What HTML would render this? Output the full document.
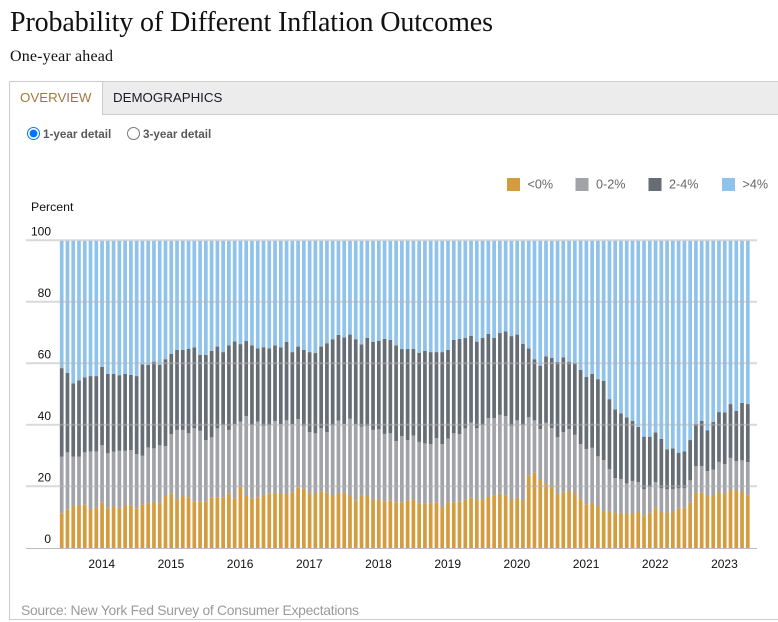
<!DOCTYPE html>
<html lang="en">
<head>
<meta charset="utf-8">
<title>Probability of Different Inflation Outcomes</title>
<style>
html,body{margin:0;padding:0;background:#fff;}
body{position:relative;width:778px;height:622px;overflow:hidden;font-family:"Liberation Sans",Arial,sans-serif;}
.abs{position:absolute;}
#panel{left:9px;top:81px;width:780px;height:537px;border:1px solid #ccc;box-sizing:content-box;}
#tabbar{left:102px;top:82px;width:680px;height:32px;background:#ececec;border-left:1px solid #ccc;border-bottom:1px solid #ccc;}
.tab{font-size:13.3px;line-height:16px;white-space:nowrap;cursor:pointer;}
.radio-label{font-size:11.7px;font-weight:bold;color:#595959;line-height:14px;white-space:nowrap;}
input[type=radio]{position:absolute;margin:0;width:13px;height:13px;accent-color:#0075ff;}
#chart{left:0;top:0;}
</style>
</head>
<body>
<svg class="abs" style="left:0;top:0" width="778" height="75">
  <text x="10" y="31" font-family="'Liberation Serif',serif" font-size="28" fill="#111" textLength="483" lengthAdjust="spacing">Probability of Different Inflation Outcomes</text>
  <text x="10" y="61" font-family="'Liberation Serif',serif" font-size="16" fill="#111" textLength="103" lengthAdjust="spacing">One-year ahead</text>
</svg>
<div class="abs" id="panel"></div>
<div class="abs" id="tabbar"></div>
<div class="abs tab" style="left:20px;top:90px;color:#a07a3c">OVERVIEW</div>
<div class="abs tab" style="left:113px;top:90px;color:#1a1a2a">DEMOGRAPHICS</div>
<input class="abs" type="radio" name="detail" checked style="left:27px;top:127px">
<div class="abs radio-label" style="left:43px;top:128px">1-year detail</div>
<input class="abs" type="radio" name="detail" style="left:127px;top:127px">
<div class="abs radio-label" style="left:143px;top:128px">3-year detail</div>

<svg class="abs" id="chart" width="778" height="622" font-family="'Liberation Sans',Arial,sans-serif">
  <g id="bars"></g>
  <g id="grid"></g>
  <g id="yticks"></g>
  <g id="xticks"></g>
  <text x="31" y="211" font-size="12.3" fill="#111">Percent</text>
  <g id="legend"></g>
  <text x="21" y="615" font-size="13.9" fill="#9a9a9a" textLength="338" lengthAdjust="spacing">Source: New York Fed Survey of Consumer Expectations</text>
</svg>

<script>
const categories = [
"Jun 13","Jul 13","Aug 13","Sep 13","Oct 13","Nov 13","Dec 13",
"Jan 14","Feb 14","Mar 14","Apr 14","May 14","Jun 14","Jul 14","Aug 14","Sep 14","Oct 14","Nov 14","Dec 14",
"Jan 15","Feb 15","Mar 15","Apr 15","May 15","Jun 15","Jul 15","Aug 15","Sep 15","Oct 15","Nov 15","Dec 15",
"Jan 16","Feb 16","Mar 16","Apr 16","May 16","Jun 16","Jul 16","Aug 16","Sep 16","Oct 16","Nov 16","Dec 16",
"Jan 17","Feb 17","Mar 17","Apr 17","May 17","Jun 17","Jul 17","Aug 17","Sep 17","Oct 17","Nov 17","Dec 17",
"Jan 18","Feb 18","Mar 18","Apr 18","May 18","Jun 18","Jul 18","Aug 18","Sep 18","Oct 18","Nov 18","Dec 18",
"Jan 19","Feb 19","Mar 19","Apr 19","May 19","Jun 19","Jul 19","Aug 19","Sep 19","Oct 19","Nov 19","Dec 19",
"Jan 20","Feb 20","Mar 20","Apr 20","May 20","Jun 20","Jul 20","Aug 20","Sep 20","Oct 20","Nov 20","Dec 20",
"Jan 21","Feb 21","Mar 21","Apr 21","May 21","Jun 21","Jul 21","Aug 21","Sep 21","Oct 21","Nov 21","Dec 21",
"Jan 22","Feb 22","Mar 22","Apr 22","May 22","Jun 22","Jul 22","Aug 22","Sep 22","Oct 22","Nov 22","Dec 22",
"Jan 23","Feb 23","Mar 23","Apr 23","May 23"];
const below0 = [11.4,12.5,13.9,13.9,14.3,12.6,13.2,15.0,12.9,13.6,13.2,13.9,14.0,12.9,14.3,14.6,15.2,14.6,17.0,17.9,15.9,17.0,16.6,15.3,15.3,15.3,16.6,16.6,16.6,17.9,16.3,20.1,17.0,16.3,16.6,17.2,17.9,18.0,17.8,17.8,18.1,19.7,19.4,17.8,17.8,18.6,18.1,17.0,17.8,18.1,17.0,15.6,17.2,17.0,15.9,15.9,15.3,15.6,15.0,15.0,15.6,15.9,14.5,14.6,14.6,15.0,13.6,15.0,15.0,15.3,15.9,16.4,15.9,15.9,16.7,17.2,17.7,17.2,15.7,16.4,15.7,23.6,24.6,22.2,20.9,20.1,17.8,18.1,18.8,17.8,15.9,14.3,14.6,13.6,12.1,12.1,11.5,11.3,11.3,11.3,11.8,10.7,11.5,13.2,11.8,11.5,11.8,12.9,13.2,15.0,18.0,18.1,17.0,17.0,18.3,17.8,19.1,18.8,18.3,17.3];
const from0to2 = [18.4,18.7,15.9,15.9,16.9,18.9,18.3,18.5,18.0,17.8,18.5,17.8,17.9,17.7,15.8,18.2,17.3,18.9,16.2,19.2,22.6,21.5,20.8,23.7,22.9,19.9,19.5,22.4,23.5,20.6,24.0,21.1,26.0,23.8,24.6,22.6,22.1,23.4,22.5,23.8,22.2,22.3,20.4,20.0,19.6,20.5,19.7,23.0,23.7,22.3,25.1,24.7,22.4,22.8,22.6,22.8,21.9,21.8,19.9,21.5,19.6,20.8,20.1,19.5,19.3,20.8,20.3,20.7,22.4,21.8,23.1,24.5,23.2,24.1,25.6,25.1,25.7,25.8,24.1,25.2,24.4,19.0,17.0,16.6,19.9,19.0,18.3,19.7,20.0,19.1,18.0,18.0,18.1,16.3,16.6,13.6,11.3,11.2,9.8,10.6,9.7,8.5,8.4,8.3,7.7,7.7,7.5,6.6,6.3,7.1,8.7,8.6,8.1,8.6,9.8,9.6,10.3,9.6,10.3,10.7];
const from2to4 = [28.8,25.8,23.8,24.8,24.4,24.5,24.5,25.5,25.8,25.3,24.6,25.0,24.5,25.4,29.7,26.9,28.2,26.2,28.3,26.1,26.0,26.0,27.5,26.3,24.7,27.7,28.1,26.6,23.7,27.5,27.0,25.2,24.4,25.9,23.8,25.6,25.0,24.6,25.0,25.5,23.5,23.6,24.7,26.0,26.1,26.5,28.9,28.0,27.9,28.2,27.4,27.7,26.7,28.6,28.6,28.8,30.9,30.4,31.1,28.3,29.6,28.1,29.0,30.1,29.9,28.0,29.9,28.8,30.4,31.0,29.4,28.2,28.1,28.4,27.4,26.1,26.6,27.5,29.2,27.9,26.4,22.4,19.9,20.6,21.6,22.8,24.5,24.3,21.9,23.3,24.1,23.4,24.0,25.1,25.8,22.8,22.4,21.4,21.5,19.5,18.0,17.1,16.4,16.2,16.1,13.0,13.2,11.6,12.0,13.1,13.7,14.7,13.3,15.5,16.2,16.8,17.5,16.3,18.7,18.9];
const above4 = [41.4,43.0,46.4,45.4,44.4,44.0,44.0,41.0,43.3,43.3,43.7,43.3,43.6,44.0,40.2,40.3,39.3,40.3,38.5,36.8,35.5,35.5,35.1,34.7,37.1,37.1,35.8,34.4,36.2,34.0,32.7,33.6,32.6,34.0,35.0,34.6,35.0,34.0,34.7,32.9,36.2,34.4,35.5,36.2,36.5,34.4,33.3,32.0,30.6,31.4,30.5,32.0,33.7,31.6,32.9,32.5,31.9,32.2,34.0,35.2,35.2,35.2,36.4,35.8,36.2,36.2,36.2,35.5,32.2,31.9,31.6,30.9,32.8,31.6,30.3,31.6,30.0,29.5,31.0,30.5,33.5,35.0,38.5,40.6,37.6,38.1,39.4,37.9,39.3,39.8,42.0,44.3,43.3,45.0,45.5,51.5,54.8,56.1,57.4,58.6,60.5,63.7,63.7,62.3,64.4,67.8,67.5,68.9,68.5,64.8,59.6,58.6,61.6,58.9,55.7,55.8,53.1,55.3,52.7,53.1];
const seriesNames = ["<0%","0-2%","2-4%",">4%"];
const seriesColors = ["#d39c3f","#a2a3a9","#666d74","#8fc3ec"];
const yTicks = [0,20,40,60,80,100];
const xTickLabels = ["2014","2015","2016","2017","2018","2019","2020","2021","2022","2023"];
const xTickCategories = ["Jan 14","Jan 15","Jan 16","Jan 17","Jan 18","Jan 19","Jan 20","Jan 21","Jan 22","Jan 23"];

const NS = "http://www.w3.org/2000/svg";
const xScale = i => 61.7 + i * (686.1 / (categories.length - 1));
const yScale = v => 548.3 - v * 3.075;
const BAR_W = 3.7;

function make(tag, attrs, parent) {
  const el = document.createElementNS(NS, tag);
  for (const k in attrs) el.setAttribute(k, attrs[k]);
  parent.appendChild(el);
  return el;
}

const allSeries = [below0, from0to2, from2to4, above4];
const barsG = document.getElementById("bars");
categories.forEach((cat, i) => {
  let base = 0;
  allSeries.forEach((vals, s) => {
    const top = base + vals[i];
    const r = make("rect", {
      x: (xScale(i) - BAR_W / 2).toFixed(2),
      y: yScale(top).toFixed(2),
      width: BAR_W,
      height: (yScale(base) - yScale(top)).toFixed(2),
      fill: seriesColors[s]
    }, barsG);
    
    
    base = top;
  });
});

const gridG = document.getElementById("grid");
const yG = document.getElementById("yticks");
yTicks.forEach(t => {
  const y = yScale(t);
  if (t === 0) {
    const base = make("line", {x1: 26, x2: 757, y1: 548.5, y2: 548.5, stroke: "#bdbdbd", "stroke-width": 1}, gridG);
    
    
  } else {
    const l = make("line", {x1: 26, x2: 757, y1: y - 0.5, y2: y - 0.5, stroke: "#b4b4b4", "stroke-opacity": 0.5, "stroke-width": 2}, gridG);
    
    
  }
  const tx = make("text", {x: 51, y: y - 5.5, "text-anchor": "end", "font-size": 12, fill: "#111"}, yG);
  tx.textContent = String(t);
  
  
});

const xG = document.getElementById("xticks");
xTickLabels.forEach((lab, k) => {
  const tx = make("text", {x: xScale(categories.indexOf(xTickCategories[k])) - 0.3, y: 568, "text-anchor": "middle", "font-size": 12, fill: "#111"}, xG);
  tx.textContent = lab;
  
  
});

const legendSwatchX = [507, 575.5, 648.5, 722];
const legendG = document.getElementById("legend");
seriesNames.forEach((name, s) => {
  const sw = make("rect", {x: legendSwatchX[s], y: 178, width: 13, height: 13, fill: seriesColors[s]}, legendG);
  
  
  const tx = make("text", {x: legendSwatchX[s] + 20.5, y: 188.5, "font-size": 12.6, fill: "#666"}, legendG);
  tx.textContent = name;
  
  
});
</script>
</body>
</html>
